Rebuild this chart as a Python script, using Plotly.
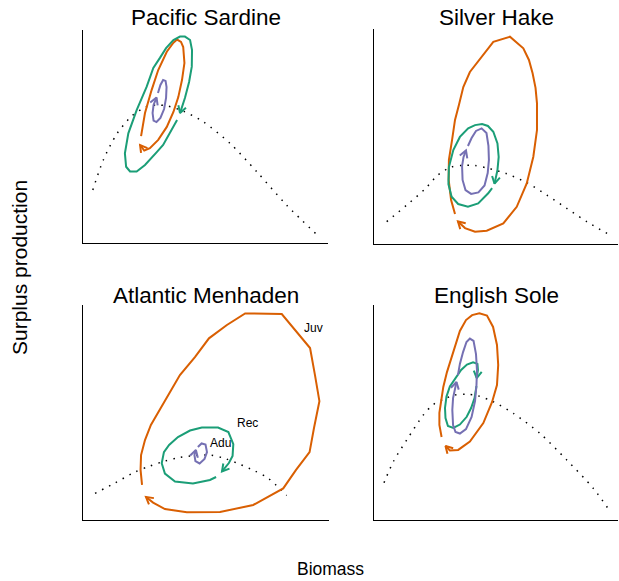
import math
import plotly.graph_objects as go

FIG_W, FIG_H = 619, 581
FONT = "Liberation Sans, Arial, Helvetica, sans-serif"
ORANGE = "#D95F02"
GREEN = "#1B9E77"
PURPLE = "#7570B3"

titles = ["Pacific Sardine", "Silver Hake", "Atlantic Menhaden", "English Sole"]

# ---------------- data (biomass, surplus production; relative units 0-100) ------------
# Pacific Sardine
sardine_juv_x = [23.7, 25.3, 28.0, 30.7, 34.2, 36.9, 38.4, 40.0, 40.9, 41.4, 40.4, 38.9, 36.9, 34.2, 30.7, 27.3, 25.0, 23.3]
sardine_juv_y = [50.2, 61.0, 71.8, 81.2, 89.8, 94.0, 95.5, 94.4, 92.0, 84.5, 76.5, 68.5, 61.5, 54.5, 48.4, 44.5, 43.4, 46.0]
sardine_rec_x = [38.4, 35.5, 32.7, 30.1, 25.3, 21.9, 19.2, 17.6, 17.1, 18.5, 21.9, 26.0, 28.7, 31.4, 33.9, 36.9, 39.6, 41.6, 43.7, 44.5, 44.4, 43.3, 41.6, 39.6]
sardine_rec_y = [57.7, 51.5, 46.0, 42.7, 36.6, 33.6, 33.6, 35.8, 42.1, 51.5, 62.4, 73.4, 82.2, 86.9, 91.5, 95.3, 96.9, 96.9, 95.3, 90.6, 82.8, 75.6, 68.1, 61.0]
sardine_adu_x = [30.6, 31.6, 32.7, 33.7, 34.1, 33.9, 33.1, 31.6, 30.0, 28.8, 28.4, 28.8, 30.0]
sardine_adu_y = [70.4, 74.2, 76.5, 76.1, 73.2, 68.1, 62.9, 58.7, 56.8, 57.5, 61.0, 64.8, 68.3]
sardine_model_x = [4.0, 8.3, 13.8, 19.9, 25.3, 29.8, 34.6, 40.9, 49.1, 60.0, 70.9, 83.1, 96.0]
sardine_model_y = [24.9, 39.0, 51.2, 59.6, 63.7, 64.8, 64.3, 61.9, 56.9, 46.8, 33.5, 17.8, 3.3]

# Silver Hake
hake_juv_x = [33.2, 31.6, 30.6, 30.7, 32.0, 33.2, 34.8, 36.6, 39.3, 42.6, 48.9, 55.7, 61.2, 63.5, 65.0, 66.2, 66.8, 66.8, 65.3, 62.6, 58.5, 53.0, 46.2, 41.4, 37.3, 34.4]
hake_juv_y = [14.0, 20.5, 29.8, 39.1, 48.4, 57.7, 64.7, 73.0, 80.0, 84.8, 94.0, 96.4, 91.0, 85.6, 79.4, 72.6, 65.4, 53.0, 40.6, 28.2, 17.3, 9.6, 6.2, 5.7, 7.4, 10.5]
hake_rec_x = [48.4, 46.8, 42.7, 38.5, 34.5, 31.8, 30.5, 30.7, 32.5, 35.2, 38.6, 41.4, 44.3, 46.7, 48.9, 50.6, 51.1, 50.6, 49.4]
hake_rec_y = [26.0, 23.6, 18.9, 17.3, 18.6, 22.0, 27.9, 35.8, 43.7, 49.8, 53.8, 55.3, 55.8, 54.9, 52.2, 46.8, 40.5, 34.4, 28.1]
hake_adu_x = [38.5, 40.0, 41.8, 44.1, 46.1, 46.9, 47.1, 46.6, 45.3, 42.8, 39.8, 37.5, 36.3, 36.1, 36.7, 37.7]
hake_adu_y = [45.6, 49.3, 52.6, 53.8, 51.6, 45.6, 39.1, 33.0, 27.2, 24.0, 23.3, 25.1, 29.8, 36.3, 40.5, 43.5]
hake_model_x = [5.2, 13.4, 20.9, 26.2, 31.6, 36.5, 41.4, 46.8, 54.1, 62.5, 70.8, 79.0, 87.2, 97.4]
hake_model_y = [10.4, 18.1, 25.6, 32.1, 35.8, 36.6, 36.5, 35.2, 32.8, 28.6, 22.8, 16.6, 10.4, 3.7]

# Atlantic Menhaden
menhaden_juv_x = [24.0, 23.4, 23.6, 25.2, 27.6, 30.6, 34.1, 39.4, 45.5, 51.2, 58.5, 65.9, 80.8, 86.2, 92.3, 94.3, 96.1, 93.9, 92.1, 86.6, 81.4, 69.2, 55.7, 42.2, 33.3, 28.5, 25.6]
menhaden_juv_y = [16.3, 23.3, 30.2, 37.2, 44.2, 50.2, 56.7, 67.4, 75.8, 84.5, 90.7, 96.1, 95.8, 88.4, 80.0, 67.4, 55.3, 42.8, 31.6, 23.3, 14.7, 7.0, 3.7, 3.6, 5.1, 8.1, 10.7]
menhaden_rec_x = [54.1, 51.6, 44.7, 37.4, 33.3, 32.0, 32.9, 35.0, 38.6, 43.5, 48.3, 54.9, 59.1, 61.1, 60.8, 59.3, 56.5]
menhaden_rec_y = [20.0, 18.6, 17.0, 17.9, 21.6, 26.4, 31.6, 34.9, 38.6, 41.6, 43.0, 43.0, 40.9, 35.3, 29.8, 26.5, 22.6]
menhaden_adu_x = [46.7, 48.2, 49.8, 50.4, 49.4, 47.4, 45.7, 45.3, 45.9]
menhaden_adu_y = [34.0, 35.6, 35.1, 31.6, 28.4, 26.3, 27.4, 30.2, 32.6]
menhaden_model_x = [4.9, 13.0, 21.1, 27.2, 33.3, 39.4, 45.5, 51.6, 57.7, 63.8, 69.9, 75.3, 82.8]
menhaden_model_y = [12.4, 17.2, 22.3, 25.1, 27.4, 29.1, 30.0, 30.2, 28.6, 25.9, 22.8, 19.4, 11.4]
menhaden_labels = ["Juv", "Rec", "Adu"]
menhaden_label_x = [93.6, 66.8, 55.9]
menhaden_label_y = [89.2, 45.3, 35.7]

# English Sole
sole_juv_x = [27.7, 26.8, 26.8, 27.5, 28.4, 29.9, 31.8, 33.6, 35.2, 37.7, 40.2, 43.2, 46.3, 48.8, 50.4, 50.9, 50.4, 48.4, 44.8, 39.3, 34.5, 31.1, 29.3]
sole_juv_y = [38.6, 44.2, 49.8, 55.8, 61.9, 68.8, 75.8, 82.8, 87.9, 93.0, 95.3, 96.1, 95.1, 89.8, 81.4, 72.1, 62.8, 54.9, 45.1, 36.5, 32.6, 32.3, 34.4]
sole_rec_x = [42.0, 41.2, 39.8, 38.0, 35.2, 32.5, 30.3, 29.3, 29.1, 29.7, 31.1, 33.2, 35.7, 38.1, 40.6, 42.4, 42.6, 42.1]
sole_rec_y = [62.3, 56.7, 52.1, 48.0, 44.4, 42.8, 43.7, 47.4, 52.1, 57.4, 62.1, 65.8, 69.8, 72.3, 73.3, 72.6, 69.8, 66.0]
sole_adu_x = [34.4, 35.2, 36.5, 37.9, 39.3, 40.8, 41.8, 42.2, 42.0, 41.4, 40.0, 37.7, 35.2, 33.4, 32.4, 32.1, 32.4, 33.2, 33.8]
sole_adu_y = [67.4, 72.6, 78.1, 82.8, 84.4, 83.3, 77.2, 69.8, 62.8, 55.3, 47.9, 42.3, 40.2, 40.9, 44.2, 51.2, 56.7, 61.4, 64.2]
sole_model_x = [4.1, 7.9, 13.4, 20.2, 24.3, 29.1, 33.2, 37.7, 42.5, 48.9, 57.1, 68.0, 79.0, 89.9, 97.0]
sole_model_y = [17.3, 27.1, 37.2, 48.8, 53.7, 56.5, 58.1, 58.5, 57.8, 55.0, 49.6, 40.3, 27.9, 14.7, 3.6]

panel_data = [
    (sardine_juv_x, sardine_juv_y, sardine_rec_x, sardine_rec_y, sardine_adu_x, sardine_adu_y, sardine_model_x, sardine_model_y),
    (hake_juv_x, hake_juv_y, hake_rec_x, hake_rec_y, hake_adu_x, hake_adu_y, hake_model_x, hake_model_y),
    (menhaden_juv_x, menhaden_juv_y, menhaden_rec_x, menhaden_rec_y, menhaden_adu_x, menhaden_adu_y, menhaden_model_x, menhaden_model_y),
    (sole_juv_x, sole_juv_y, sole_rec_x, sole_rec_y, sole_adu_x, sole_adu_y, sole_model_x, sole_model_y),
]

# ---------------- layout geometry (pixels: left, right, top, bottom) ----------------
boxes = [(83, 328, 30, 243), (374, 618, 29, 244), (83, 329, 305, 520), (374, 618, 305, 520)]
XR = [0, 100]
YR = [0, 100]


def to_px(i, x, y):
    x0, x1, yt, yb = boxes[i]
    return (x0 + (x - XR[0]) / (XR[1] - XR[0]) * (x1 - x0),
            yb - (y - YR[0]) / (YR[1] - YR[0]) * (yb - yt))


def from_px(i, px, py):
    x0, x1, yt, yb = boxes[i]
    return (XR[0] + (px - x0) / (x1 - x0) * (XR[1] - XR[0]),
            YR[0] + (yb - py) / (yb - yt) * (YR[1] - YR[0]))


def arrow_head(i, xs, ys, length=8.0, ang=30.0):
    ax, ay = to_px(i, xs[-2], ys[-2])
    bx, by = to_px(i, xs[-1], ys[-1])
    d = math.atan2(by - ay, bx - ax)
    a = math.radians(ang)
    p1 = from_px(i, bx - length * math.cos(d + a), by - length * math.sin(d + a))
    p2 = from_px(i, bx - length * math.cos(d - a), by - length * math.sin(d - a))
    return [p1[0], xs[-1], p2[0]], [p1[1], ys[-1], p2[1]]


fig = go.Figure()
layout_axes = {}
for i in range(4):
    x0, x1, yt, yb = boxes[i]
    xa = "x" if i == 0 else f"x{i+1}"
    ya = "y" if i == 0 else f"y{i+1}"
    jx, jy, rx, ry, ax_, ay_, mx, my = panel_data[i]
    # model curve
    fig.add_trace(go.Scatter(x=mx, y=my, mode="lines", xaxis=xa, yaxis=ya,
                             line=dict(color="black", width=1.5, dash="1.5px,6.3px", shape="spline", smoothing=0.8),
                             hoverinfo="skip", showlegend=False))
    for (lx, ly, col) in [(jx, jy, ORANGE), (rx, ry, GREEN), (ax_, ay_, PURPLE)]:
        fig.add_trace(go.Scatter(x=lx, y=ly, mode="lines", xaxis=xa, yaxis=ya,
                                 line=dict(color=col, width=2), hoverinfo="skip", showlegend=False))
        hx, hy = arrow_head(i, lx, ly)
        fig.add_trace(go.Scatter(x=hx, y=hy, mode="lines", xaxis=xa, yaxis=ya,
                                 line=dict(color=col, width=2), hoverinfo="skip", showlegend=False))
    axis_common = dict(showline=True, linecolor="black", linewidth=1, showgrid=False, zeroline=False,
                       showticklabels=False, ticks="", fixedrange=True)
    layout_axes["xaxis" if i == 0 else f"xaxis{i+1}"] = dict(
        domain=[x0 / FIG_W, x1 / FIG_W], range=XR, anchor=ya, **axis_common)
    layout_axes["yaxis" if i == 0 else f"yaxis{i+1}"] = dict(
        domain=[(FIG_H - yb) / FIG_H, (FIG_H - yt) / FIG_H], range=YR, anchor=xa, **axis_common)

annotations = []
title_y = [18, 18, 295, 295]
for i in range(4):
    x0, x1, yt, yb = boxes[i]
    annotations.append(dict(text=titles[i], x=(x0 + x1) / 2 / FIG_W, y=1 - title_y[i] / FIG_H,
                            xref="paper", yref="paper", showarrow=False, xanchor="center", yanchor="middle",
                            font=dict(family=FONT, size=22.5, color="black")))
for t, lx, ly in zip(menhaden_labels, menhaden_label_x, menhaden_label_y):
    annotations.append(dict(text=t, x=lx, y=ly, xref="x3", yref="y3", showarrow=False,
                            xanchor="center", yanchor="middle",
                            font=dict(family=FONT, size=12, color="black")))
annotations.append(dict(text="Surplus production", x=19 / FIG_W, y=1 - 268 / FIG_H, xref="paper", yref="paper",
                        showarrow=False, textangle=-90, xanchor="center", yanchor="middle",
                        font=dict(family=FONT, size=21, color="black")))
annotations.append(dict(text="Biomass", x=330 / FIG_W, y=1 - 569 / FIG_H, xref="paper", yref="paper",
                        showarrow=False, xanchor="center", yanchor="middle",
                        font=dict(family=FONT, size=17.5, color="black")))

fig.update_layout(width=FIG_W, height=FIG_H, margin=dict(l=0, r=0, t=0, b=0),
                  paper_bgcolor="white", plot_bgcolor="white", showlegend=False,
                  annotations=annotations, **layout_axes)
fig.write_html("out.html", config={"displayModeBar": False})
